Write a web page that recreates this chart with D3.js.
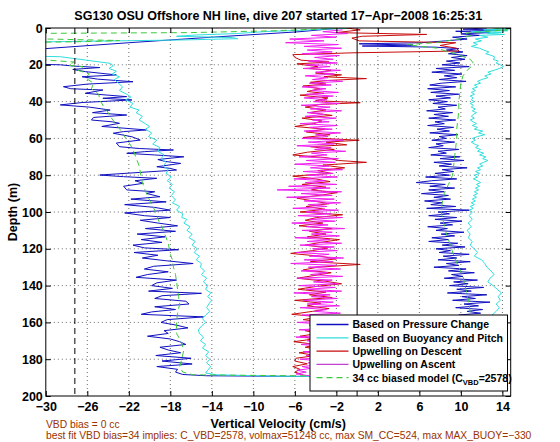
<!DOCTYPE html>
<html><head><meta charset="utf-8">
<script src="https://cdn.jsdelivr.net/npm/d3@7"></script>
<style>
body{margin:0;background:#fff}
svg{display:block}
text{font-family:"Liberation Sans",Arial,Helvetica,sans-serif}
</style>
</head><body>
<svg id="c" width="560" height="442"></svg>
<script>
// ---------- DATA (depth m, vertical velocity cm/s) ----------
const titleText = "SG130 OSU Offshore NH line, dive 207 started 17\u2212Apr\u22122008 16:25:31";
const xLabel = "Vertical Velocity (cm/s)";
const yLabel = "Depth (m)";
const note1 = "VBD bias = 0 cc";
const note2 = "best fit VBD bias=34 implies: C_VBD=2578, volmax=51248 cc, max SM_CC=524, max MAX_BUOY=\u2212330";
const xTicks = [-30,-26,-22,-18,-14,-10,-6,-2,2,6,10,14];
const yTicks = [0,20,40,60,80,100,120,140,160,180,200];
const vbdBiasLineX = -27.2;
const legendLabels = ["Based on Pressure Change","Based on Buoyancy and Pitch","Upwelling on Descent","Upwelling on Ascent","34 cc biased model (C_VBD=2578)"];

const blueDescent = [[0,-0.5],[0.5,-2.6],[2,-5.5],[5,-14],[8,-22],[11.2,-30],[11.8,-34],[19.3,-34],[20,-28.6],[20.7,-27.3],[21.5,-24.8],[22.5,-27.4],[23.7,-26.2],[25.5,-23.2],[26.5,-26.5],[27.8,-25],[29.2,-21.6],[30.5,-26],[31.9,-28.3],[33,-27.6],[33.7,-24.5],[35.5,-26.2],[37.3,-22.2],[38.2,-24.5],[39.1,-21.7],[40.5,-26.5],[41.8,-28.6],[43,-25.8],[44.6,-23.8],[46,-25.5],[47.3,-22.2],[48.6,-25.4],[50,-25.6],[51,-23.6],[51.8,-22.9],[53.5,-24.6],[55.4,-20.3],[56.3,-22.5],[57.2,-23.5],[59.1,-21.7],[60.9,-20.9],[62.5,-23.2],[64.5,-22.9],[65.5,-21],[66.3,-17.7],[67.2,-20.5],[68.1,-22.2],[69,-19.5],[70,-16.7],[71.5,-19.2],[72.5,-18.5],[73.6,-17],[75.4,-19.3],[76.3,-18],[77.2,-17.4],[78.5,-21],[79.9,-24.8],[80.8,-22.5],[81.7,-19.3],[83,-21.4],[84.4,-20.6],[86,-22.5],[88,-22.2],[89,-19.5],[89.9,-20.3],[91.7,-19.0],[93,-21.8],[94.5,-18.4],[96,-22.4],[97.5,-19.5],[99,-18],[100.5,-22.4],[102,-20.5],[103,-18],[104.5,-20.9],[106,-19.2],[107.5,-17.3],[109,-20.4],[110.5,-17.5],[112,-21.2],[113.5,-18.5],[115,-20.8],[116.5,-18.8],[118,-21.6],[119.5,-20.5],[120.5,-17.2],[122,-21.5],[123.5,-19.2],[125,-20.7],[126.5,-18.4],[128,-15.8],[129.5,-19.6],[131,-20.5],[132.5,-18.2],[134,-20.2],[135.5,-21.3],[137,-17.4],[138.5,-19.3],[140,-19.8],[141.5,-17.8],[143,-20.1],[144.2,-15],[145.5,-18.8],[147,-19.5],[148.5,-16.5],[150,-16.2],[151.5,-19.5],[153,-17.5],[154.3,-19.8],[155.6,-20.8],[157,-14.8],[158.5,-18.3],[160,-18.9],[161.5,-17.4],[163,-16.3],[164.5,-18.6],[166,-18.2],[167.5,-20.2],[169,-18],[170.5,-17.1],[172,-16.5],[173.5,-19],[175,-18.2],[176.5,-17],[178,-19.4],[179.5,-16],[181,-18.8],[182.6,-15.9],[184,-19.3],[185.5,-17.3],[187,-17.5],[188.3,-16.8],[189,-14.5]];

const blueAscent = [[0,12.5],[0.6,10.2],[1.2,13.6],[1.8,9.5],[2.5,12.8],[3.2,10.0],[4,11.8],[5,9.2],[6,10.6],[7,8.5],[8,6.2],[8.6,0.2],[9.3,5.4],[9.8,0.5],[10.4,7.5],[11.2,9.8],[12,8.6],[13,10.2],[14,8.8],[15,10.6],[16,9.1],[17,10.4],[18,8.6],[19,9.9],[20,8.2],[21,10.8],[22,7.6],[23,9.4],[24,7.2],[25,10.1],[26,8.4],[27,9.6],[28,7.9],[29,10.5],[30,8.1],[31,7.0],[32,9.5],[33,6.8],[34,8.9],[35,7.1],[36,9.8],[37,7.6],[38,9.0],[39,6.9],[40,8.7],[41,7.3],[42,9.6],[43,7.8],[44,8.5],[45,6.7],[46,9.2],[47,7.4],[48,8.8],[49,6.9],[50,9.5],[51,7.5],[52,8.4],[53,6.8],[54,9.3],[55,7.7],[56,8.9],[57,7.0],[58,9.7],[59,7.9],[60,8.6],[61,7.2],[62,9.4],[63,7.6],[64,8.3],[65,6.9],[66,9.8],[67,7.8],[68,8.6],[69,7.1],[70,9.9],[71,8.0],[72,10.3],[73,7.4],[74,9.1],[75,7.9],[76,10.6],[77,8.2],[78,9.3],[79,7.5],[80,8.9],[81,6.6],[82,9.6],[83,7.2],[84,5.7],[85,8.5],[86,7.0],[87,9.4],[88,6.9],[89,8.4],[90,6.2],[91,8.8],[92,7.4],[93,9.0],[94,6.5],[95,8.2],[96,7.1],[97,9.5],[98,6.7],[99,10.8],[100,7.8],[101,8.9],[102,6.9],[103,9.6],[104,7.5],[105,10.1],[106,8.0],[107,9.2],[108,6.8],[109,8.7],[110,7.6],[111,10.3],[112,8.1],[113,9.4],[114,7.2],[115,8.8],[116,6.9],[117,9.7],[118,8.2],[119,10.4],[120,7.6],[121,9.0],[122,7.9],[123,10.8],[124,8.3],[125,9.6],[126,7.8],[127,10.9],[128,8.6],[129,9.8],[130,7.4],[131,10.5],[132,8.8],[133,11.3],[134,9.1],[135,10.2],[136,8.4],[137,11.6],[138,9.3],[139,10.7],[140,8.9],[141,12.2],[142,9.6],[143,11.0],[144,8.7],[145,12.5],[146,10.1],[147,11.4],[148,9.2],[149,12.8],[150,10.3],[151,11.7],[152,9.5],[153,12.1],[154,10.6],[155,11.9],[156,9.8],[158,12.4],[161,10.2],[164,11.8],[167,10.0],[170,12.2],[173,10.5],[176,11.6],[179,10.1],[182,12.0],[185,10.4],[188,11.5],[190,10.8]];

const cyanDescent = [[0,-1.0],[1,-4.5],[2,-9],[3,-11.6],[3.8,-15.5],[4.5,-17.4],[5.2,-12],[5.8,-11.5],[6.5,-16.8],[7.5,-30],[8,-34],[15,-34],[15.6,-28.6],[17.4,-26.2],[19.2,-23.8],[20.5,-23.5],[22,-23.9],[23.5,-23.2],[25,-23.6],[26.5,-22.9],[28,-23.4],[30,-23.0],[32,-22.6],[34,-22.9],[36,-22.2],[37.5,-21.8],[39,-22.3],[41,-21.6],[43,-21.9],[44.6,-21],[46,-21.3],[48,-20.7],[50,-21.0],[52,-20.4],[53.6,-20.0],[55,-20.4],[57,-19.8],[59,-20.1],[61,-19.3],[63,-19.7],[65,-19.0],[67,-19.2],[69,-18.6],[71,-18.9],[73,-18.4],[75,-18.7],[77,-18.2],[79,-18.4],[81,-17.9],[83,-18.3],[85,-17.8],[87,-18.1],[89,-17.6],[91,-17.9],[93.5,-17.5],[95,-17.8],[97,-17.1],[99,-17.4],[101,-16.8],[103,-16.9],[104,-16.4],[106,-16.7],[108,-16.1],[110,-16.4],[112,-15.9],[114,-16.2],[116,-15.6],[118,-15.9],[120,-15.4],[122,-15.7],[124,-15.2],[126,-15.5],[128,-15.0],[130,-15.1],[132,-14.7],[134,-15.0],[136,-14.5],[138,-14.8],[140,-14.4],[142,-14.6],[144,-14.1],[146,-14.4],[148,-14.0],[150,-14.3],[152,-14.5],[154,-14.2],[156,-14.6],[158,-14.9],[160,-14.6],[162,-15.0],[164,-15.3],[166,-15.2],[168,-14.8],[170,-15.1],[172,-14.6],[174,-14.9],[176,-14.3],[178,-14.6],[180,-14.2],[182,-14.5],[184,-14.1],[186,-14.4],[187.5,-14.6],[188.5,-13.5],[189.2,-8],[189.6,0]];

const cyanAscent = [[0,13.0],[0.5,14.8],[1,12.2],[1.5,14.5],[2,11.0],[2.5,13.9],[3,12.5],[3.5,14.2],[4,11.8],[5,12.6],[6,11.4],[7,12.0],[8,11.2],[9,11.6],[10,11.0],[11,11.8],[12,12.2],[13,12.7],[14,12.4],[15,13.0],[16,13.3],[17,13.1],[18,13.6],[19,13.4],[20,13.8],[21,14.1],[22,13.7],[23,13.2],[24,12.6],[25,12.9],[26,12.3],[27,12.6],[28,12.0],[29,11.6],[30,11.9],[31,11.3],[32,11.6],[33,11.1],[34,11.4],[35,11.0],[36,11.3],[37,10.9],[38,11.2],[39,11.0],[40,11.3],[41,10.9],[42,11.2],[43,11.0],[44,11.4],[45,11.1],[46,11.5],[47,11.2],[48,11.0],[49,11.3],[50,10.9],[51,11.2],[52,11.5],[53,11.1],[54,11.6],[55,11.3],[56,12.1],[57,11.7],[58,12.3],[59,11.6],[60,11.1],[61,11.4],[62,11.0],[63,11.3],[64,11.7],[65,11.4],[66,11.9],[67,11.6],[68,12.2],[69,11.8],[70,12.4],[71,12.1],[72,12.6],[73,12.2],[74,11.8],[75,12.1],[76,11.6],[77,11.9],[78,11.4],[79,11.8],[80,11.3],[81,11.6],[82,11.2],[83,11.6],[84,11.9],[85,11.5],[86,11.8],[87,11.4],[88,11.7],[89,11.3],[90,11.6],[91,11.2],[92,11.5],[93,11.1],[94,11.4],[95,11.0],[96,11.3],[97,10.9],[98,11.2],[99,10.8],[100,11.1],[102,10.8],[104,11.1],[106,10.7],[108,11.0],[110,10.6],[112,10.9],[114,10.7],[116,11.1],[118,10.9],[120,11.3],[122,11.6],[124,11.3],[126,12.0],[128,12.3],[130,12.5],[132,12.9],[134,13.2],[136,12.8],[138,12.6],[140,13.1],[142,13.5],[144,13.9],[146,13.6],[148,13.8],[150,13.4],[152,13.7],[154,13.4],[156,13.0],[160,13.3],[165,12.8],[170,13.1],[175,12.6],[180,12.9],[185,12.4],[190,12.0]];

const greenDescent = [[0,-1.0],[1.5,-8],[2.5,-16],[2.9,-30],[3.2,-34],[5.5,-34],[6.2,-28],[6.8,-22.9],[7.4,-26],[8.0,-34],[17,-34],[17.4,-30],[18.5,-27.3],[20.3,-27.8],[21,-26.4],[23,-26.9],[25,-25.8],[27,-26.2],[30,-25.4],[33,-25.6],[36,-24.9],[39,-24.8],[42,-24.5],[45,-24.1],[48,-23.8],[51,-23.4],[54,-23.0],[57,-22.6],[60,-22.3],[63,-21.9],[66,-21.6],[69,-21.4],[72,-21.2],[75,-21.0],[78,-20.9],[81,-20.8],[84,-20.7],[87,-20.5],[90,-20.3],[93.5,-20.0],[96,-19.8],[99,-19.5],[102,-19.3],[105,-19.1],[108,-18.8],[111,-18.6],[114,-18.4],[117,-18.2],[120,-18.1],[123,-18.0],[126,-17.8],[130,-17.7],[134,-17.5],[138,-17.4],[142,-17.3],[146,-17.2],[150,-17.1],[155,-17.3],[160,-17.4],[166,-17.4],[170,-17.0],[175,-16.7],[180,-16.9],[184,-17.1],[187,-16.8],[188.5,-15.8],[189.3,0]];

const greenAscent = [[0,13.0],[1,14.5],[1.8,12.5],[2.8,10.5],[4,11.0],[6,9.8],[8,7.5],[9,4.8],[10,6.2],[11,7.8],[12.5,8.5],[14,9.5],[15.5,10.2],[17,10.9],[19,11.2],[21,11.0],[23,10.6],[26,10.2],[30,10.0],[35,9.9],[40,9.8],[45,9.8],[50,9.7],[55,9.6],[60,9.6],[65,9.5],[70,9.4],[75,9.3],[80,9.2],[85,8.8],[90,8.4],[95,8.2],[100,8.1],[105,8.3],[110,8.5],[115,8.8],[120,9.1],[125,9.4],[130,9.8],[135,10.2],[140,10.4],[145,10.6],[150,10.8],[160,11.0],[170,11.2],[180,11.3],[190,11.3]];

const redDescent = [[0,-1.0],[1,0.3],[2.5,-2],[3.5,6.7],[4.5,0.5],[5.5,-0.5],[7,0.2],[8,9.5],[9.5,8.0],[11,9.6],[12.5,9.8],[13.5,-0.5],[14.5,-6.2],[16,-6.0],[17.5,-5.4],[18.5,-2.7],[19.5,-5.8],[21,-3.8],[22,-4.6],[23,-2.5],[24.5,-4.0],[25.5,-1.5],[26.5,-3.2],[27.5,0.9],[28.5,-2.8],[29.5,-4.5],[30.5,-3.0],[31.5,-5.2],[33,-3.6],[34.5,-4.8],[35.5,-3.2],[36.5,-5.5],[38,-2.8],[39.5,-4.0],[40.6,0.3],[41.5,-3.5],[43,-5.0],[44.5,-3.0],[46,-4.6],[47.5,-2.4],[49,-5.3],[50.5,-3.4],[52,-4.2],[53.5,-6.0],[55,-3.1],[56.5,-4.9],[58,-2.6],[59.5,-5.2],[61,0.2],[62,-3.0],[63.5,-1.0],[64.5,-4.5],[66,-2.2],[67.5,-4.8],[69,-6.2],[70.5,-2.9],[72,-1.8],[73,0.9],[74.5,-3.3],[76,-1.2],[77.5,-3.8],[79,-2.5],[80.5,-6.2],[82,-4.0],[83.5,-2.6],[85,-5.3],[86.5,-3.0],[88,-4.4],[89.5,-1.9],[91,-3.7],[92.5,-5.8],[94,-4.2],[95.5,-2.7],[97,-4.9],[98.5,-3.1],[100,-5.5],[101.5,-1.4],[103,-3.9],[104.5,-5.0],[106,-3.3],[107.5,-5.6],[109,-2.4],[110.5,-4.6],[112,-3.0],[113.5,-4.8],[115,-1.7],[116.5,-3.5],[118,-5.0],[119.5,-2.8],[121,-4.3],[122.5,-6.4],[124,-3.6],[125.5,-2.0],[127,-4.5],[128.5,0.3],[130,-3.8],[131.5,-5.2],[133,-2.5],[134.5,-4.1],[136,-5.8],[137.5,-3.2],[139,-1.5],[140.5,-4.0],[142,-5.7],[143.5,-3.0],[145,-4.6],[146.5,-2.4],[148,-6.0],[149.5,-3.5],[151,-4.8],[152.5,-2.7],[154,-4.3],[155.6,-6.3],[157,-3.6],[158.5,-5.2],[160,-3.0],[161.5,-4.6],[163,-2.2],[164.5,-5.0],[166,-3.8],[167.5,-5.5],[169,-4.2],[170.5,-6.1],[172,-3.9],[173.5,-5.0],[175,-3.4],[176.5,-5.6],[178,-4.0],[179.5,-5.9],[181,-6.0],[182.5,-4.8],[184,-6.2],[185.5,-5.5],[187,-6.0],[188.5,-5.2]];

const magentaAscent = [[1,-1.4],[2,-3.3],[3,-0.9],[4,-4.4],[5,-2.0],[6,-6.5],[7,-3.2],[8,-6.9],[9,-1.8],[10,-5.1],[11,-1.5],[12,-4.8],[13,-2.4],[14,-5.3],[15,-1.7],[16,-4.1],[17,-2.3],[18,-4.7],[19,-1.9],[20,-4.9],[21,-2.6],[22,-5.2],[23,-1.6],[24,-4.0],[25,-2.2],[26,-5.0],[27,-2.8],[28,-4.3],[29,-1.4],[30,-4.6],[31,-2.5],[32,-5.3],[33,-3.0],[34,-4.4],[35,-1.8],[36,-4.9],[37,-2.3],[38,-5.1],[39,-2.9],[40,-4.2],[41,-1.7],[42,-5.4],[43,-2.6],[44,-4.5],[45,-1.5],[46,-4.8],[47,-3.1],[48,-5.0],[49,-2.0],[50,-4.3],[51,-2.7],[52,-5.5],[53,-1.9],[54,-4.6],[55,-2.4],[56,-5.1],[57,-1.6],[58,-4.0],[59,-2.8],[60,-5.3],[61,-1.3],[62,-4.7],[63,-2.2],[64,-5.8],[65,-2.5],[66,-4.1],[67,-1.1],[68,-4.4],[69,-2.9],[70,-5.6],[71,-1.8],[72,-4.9],[73,-2.1],[74,-6.0],[75,-2.7],[76,-4.5],[77,-1.4],[78,-5.2],[79,-2.3],[80,-4.8],[81,-1.9],[82,-6.1],[83,-3.0],[84,-5.0],[85,-2.0],[86,-6.6],[87,-2.6],[88,-7.7],[89,-1.5],[90,-5.4],[91,-2.4],[92,-6.8],[93,-2.2],[94,-5.1],[95,-1.6],[96,-4.7],[97,-2.9],[98,-6.2],[99,-1.8],[100,-5.0],[101,-2.5],[102,-5.7],[103,-1.4],[104,-4.6],[105,-2.1],[106,-6.3],[107,-2.8],[108,-4.9],[109,-1.2],[110,-5.3],[111,-2.4],[112,-4.4],[113,-1.7],[114,-6.0],[115,-2.6],[116,-4.8],[117,-1.5],[118,-5.5],[119,-2.2],[120,-4.3],[121,-1.9],[122,-5.9],[123,-2.7],[124,-4.6],[125,-1.3],[126,-5.1],[127,-2.3],[128,-6.4],[129,-2.0],[130,-4.7],[131,-1.6],[132,-5.4],[133,-2.8],[134,-4.5],[135,-1.4],[136,-5.8],[137,-2.4],[138,-4.2],[139,-1.8],[140,-5.6],[141,-2.1],[142,-4.9],[143,-1.5],[144,-6.1],[145,-2.6],[146,-4.4],[147,-1.9],[148,-5.2],[149,-2.3],[150,-4.8],[151,-1.7],[152,-5.5],[153,-2.9],[154,-4.1],[155,-1.6],[156,-5.3],[157,-2.5],[158,-4.6],[159,-2.0],[160,-5.8],[161,-3.0],[162,-4.3],[163,-2.2],[164,-5.6],[165,-2.8],[166,-4.5],[167,-3.2],[168,-5.9],[169,-2.6],[170,-4.8],[171,-2.9],[172,-5.4],[173,-3.1],[174,-4.6],[175,-2.7],[176,-5.2],[177,-3.3],[178,-4.9],[179,-3.0],[180,-5.5],[181,-3.4],[182,-4.7],[183,-3.6],[184,-5.3],[185,-4.4],[186,-5.8],[187,-4.9],[188,-5.9],[189,-4.6]];

// ---------- CHART ----------
const W = 560, H = 442;
const L = 45.8, R = 510.7, T = 28, B = 396;
const svg = d3.select("#c");
const x = d3.scaleLinear().domain([-30, 14.8]).range([L, R]);
const y = d3.scaleLinear().domain([0, 200]).range([T, B]);

const colors = {blue:"#1010c0", cyan:"#30dede", red:"#c80c0c", magenta:"#f020f0", green:"#3cc83c"};
const FONT = '"Liberation Sans",Arial,Helvetica,sans-serif';

svg.append("rect").attr("width", W).attr("height", H).attr("fill", "#fff");

// grid (dotted)
const grid = svg.append("g").attr("stroke", "#444").attr("stroke-width", 0.8).attr("stroke-dasharray", "1,3");
grid.selectAll("line.vx").data(xTicks.filter(d => d > -30)).join("line")
  .attr("x1", d => x(d)).attr("x2", d => x(d)).attr("y1", T).attr("y2", B);
grid.selectAll("line.hy").data(yTicks.filter(d => d > 0 && d < 200)).join("line")
  .attr("x1", L).attr("x2", R).attr("y1", d => y(d)).attr("y2", d => y(d));

// clip
svg.append("clipPath").attr("id", "plotclip").append("rect")
  .attr("x", L).attr("y", T).attr("width", R - L).attr("height", B - T);
const plot = svg.append("g").attr("clip-path", "url(#plotclip)");

const line = d3.line().x(d => x(d[1])).y(d => y(d[0]));
const bluePath = blueDescent.concat(blueAscent.slice().reverse());
const cyanPath = cyanDescent.concat(cyanAscent.slice().reverse());
const greenPath = greenDescent.concat(greenAscent.slice().reverse());

plot.append("path").attr("d", line(bluePath)).attr("fill", "none").attr("stroke", colors.blue).attr("stroke-width", 1);
plot.append("path").attr("d", line(cyanPath)).attr("fill", "none").attr("stroke", colors.cyan).attr("stroke-width", 1);
plot.append("path").attr("d", line(redDescent)).attr("fill", "none").attr("stroke", colors.red).attr("stroke-width", 1);
plot.append("path").attr("d", line(magentaAscent.slice().reverse())).attr("fill", "none").attr("stroke", colors.magenta).attr("stroke-width", 1);
plot.append("path").attr("d", line(greenPath)).attr("fill", "none").attr("stroke", colors.green).attr("stroke-width", 1).attr("stroke-dasharray", "6,4");

// reference lines
plot.append("line").attr("x1", x(0)).attr("x2", x(0)).attr("y1", T).attr("y2", B).attr("stroke", "#000").attr("stroke-width", 1);
plot.append("line").attr("x1", x(vbdBiasLineX)).attr("x2", x(vbdBiasLineX)).attr("y1", T).attr("y2", B)
  .attr("stroke", "#000").attr("stroke-width", 1).attr("stroke-dasharray", "6,4");

// axes
const fmt = d => d3.format("d")(d);
const axB = svg.append("g").attr("transform", `translate(0,${B})`)
  .call(d3.axisBottom(x).tickValues(xTicks).tickSize(-5).tickSizeOuter(0).tickPadding(6.5).tickFormat(fmt));
const axT = svg.append("g").attr("transform", `translate(0,${T})`)
  .call(d3.axisTop(x).tickValues(xTicks).tickSize(-5).tickSizeOuter(0).tickFormat(""));
const axL = svg.append("g").attr("transform", `translate(${L},0)`)
  .call(d3.axisLeft(y).tickValues(yTicks).tickSize(-5).tickSizeOuter(0).tickPadding(3).tickFormat(fmt));
const axR = svg.append("g").attr("transform", `translate(${R},0)`)
  .call(d3.axisRight(y).tickValues(yTicks).tickSize(-5).tickSizeOuter(0).tickFormat(""));
[axB, axT, axL, axR].forEach(a => {
  a.select(".domain").remove();
  a.selectAll("line").attr("stroke", "#000");
  a.selectAll("text").attr("font-family", FONT).attr("font-size", 12.5).attr("font-weight", "bold").attr("fill", "#000");
});
svg.append("rect").attr("x", L).attr("y", T).attr("width", R - L).attr("height", B - T)
  .attr("fill", "none").attr("stroke", "#000").attr("stroke-width", 1);

// legend
const lg = svg.append("g");
const lgX = 310, lgY = 315, lgW = 197.5, lgH = 76;
lg.append("rect").attr("x", lgX).attr("y", lgY).attr("width", lgW).attr("height", lgH)
  .attr("fill", "#fff").attr("stroke", "#000").attr("stroke-width", 1);
const lgItems = [
  {c: colors.blue, dash: null},
  {c: colors.cyan, dash: null},
  {c: colors.red, dash: null},
  {c: "#c040d0", dash: null},
  {c: colors.green, dash: "6,4"}
];
lgItems.forEach((it, i) => {
  const yy = lgY + 9.5 + i * 13.3;
  const ln = lg.append("line").attr("x1", 316.5).attr("x2", 348.5).attr("y1", yy).attr("y2", yy)
    .attr("stroke", it.c).attr("stroke-width", 1.3);
  if (it.dash) ln.attr("stroke-dasharray", it.dash);
  const t = lg.append("text").attr("x", 352.5).attr("y", yy + 3.8)
    .attr("font-family", FONT).attr("font-size", 10.5).attr("font-weight", "bold");
  const lab = legendLabels[i];
  if (lab.indexOf("C_VBD") >= 0) {
    const parts = lab.split("C_VBD");
    t.append("tspan").text(parts[0] + "C");
    t.append("tspan").attr("dy", 3).attr("font-size", 7.5).text("VBD");
    t.append("tspan").attr("dy", -3).text(parts[1]);
  } else {
    t.text(lab);
  }
});

// titles
svg.append("text").attr("x", (L + R) / 2).attr("y", 20).attr("text-anchor", "middle")
  .attr("font-family", FONT).attr("font-size", 12.5).attr("font-weight", "bold").text(titleText);
svg.append("text").attr("x", (L + R) / 2).attr("y", 427.5).attr("text-anchor", "middle")
  .attr("font-family", FONT).attr("font-size", 12.5).attr("font-weight", "bold").text(xLabel);
svg.append("text").attr("transform", `translate(16.5,${(T + B) / 2}) rotate(-90)`).attr("text-anchor", "middle")
  .attr("font-family", FONT).attr("font-size", 12.5).attr("font-weight", "bold").text(yLabel);
svg.append("text").attr("x", 46).attr("y", 427.5)
  .attr("font-family", FONT).attr("font-size", 10.3).attr("fill", "#993300").text(note1);
svg.append("text").attr("x", 46).attr("y", 439)
  .attr("font-family", FONT).attr("font-size", 10.3).attr("fill", "#993300").text(note2);
</script>
</body></html>
